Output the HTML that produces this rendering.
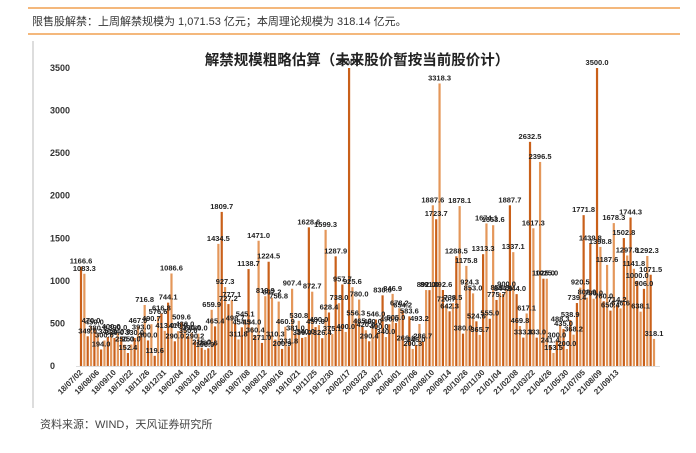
<!DOCTYPE html>
<html><head><meta charset="utf-8"><style>
body{margin:0;background:#fff;width:696px;height:453px;overflow:hidden;font-family:"Liberation Sans","Noto Sans CJK SC",sans-serif;}
</style></head><body>
<svg width="696" height="453" style="position:absolute;left:0;top:0">
<line x1="28" y1="8" x2="680" y2="8" stroke="#f0a050" stroke-width="1.5"/>
<text x="32" y="25" font-size="11" fill="#333">限售股解禁：上周解禁规模为 1,071.53 亿元；本周理论规模为 318.14 亿元。</text>
<line x1="28" y1="34" x2="680" y2="34" stroke="#f0a050" stroke-width="1.5"/>
<line x1="33" y1="41" x2="33" y2="408" stroke="#bbb" stroke-width="1"/>
<text x="357" y="65" font-size="14.5" font-weight="bold" text-anchor="middle" fill="#222">解禁规模粗略估算（未来股价暂按当前股价计）</text>
<g id="yaxis"></g><g id="bars"></g><g id="labels"></g><g id="xaxis"></g>
<text x="40" y="428" font-size="11" fill="#444">资料来源：WIND，天风证券研究所</text>
</svg>
<script>
const values=[1166.6,1083.3,349,470,450,380,194,300,340,400,330,390,340,250,152.4,253,330,467,393,716.8,300,490.7,119.6,576.6,616.8,413,744.1,1086.6,290,410,509.6,430,350,390,290.2,380,215,190,207.6,659.9,465.4,1434.5,1809.7,
927.3,727.2,777.1,498.7,311.8,454.3,545.1,1138.7,454,360.4,1471,271,819.9,1224.5,802.2,310.3,756.8,200.9,460.9,231.8,907.4,381,530.8,330,340,1628.6,872.7,457,480,326.4,1599.3,628.4,375.1,1287.9,738,957.7,400,3500,925.6,556.3,
780,465,420,290.4,460,546,400,830,340,490,846.9,505,678.2,654.2,266,583.6,200.3,246,493.2,286.7,892,891,1887.6,1723.7,3318.3,892.6,720.7,642.3,738.5,1288.5,1878.1,380,1175.8,924.3,853,524.6,365.7,1313.3,1674.1,555,1653.6,775.7,859.8,844.9,900,
1887.7,1337.1,844,469.8,333.8,617.1,2632.5,1617.3,333,2396.5,1025,1025,241.4,153.5,300,488.3,435,200,538.9,368.2,739.4,920.5,1771.8,802.9,1439.8,790,3500,1398.8,760,1187.6,650.4,1678.3,714.2,676.6,1502.8,1297.8,1744.3,1141.8,1000,638.1,906,1292.3,1071.5,318.1];
const dateLabels=["18/07/02","18/08/06","18/09/10","18/10/22","18/11/26","18/12/31","19/02/04","19/03/18","19/04/22","19/06/03","19/07/08","19/08/12","19/09/16","19/10/21","19/11/25","19/12/30","20/02/17","20/03/23","20/04/27","20/06/01","20/07/06","20/08/10","20/09/14","20/10/26","20/11/30","21/01/04","21/02/08","21/03/22","21/04/26","21/05/30","21/07/05","21/08/09","21/09/13"];
const yTicks=[0,500,1000,1500,2000,2500,3000,3500];
const NS="http://www.w3.org/2000/svg";
const x0=81,x1=654,yZero=366,yTop=68;
function xs(i){return x0+i*(x1-x0)/(values.length-1);}
function ys(v){return yZero-(v/3500)*(yZero-yTop);}
function mk(t,a,p){const e=document.createElementNS(NS,t);for(const k in a)e.setAttribute(k,a[k]);p.appendChild(e);return e;}
const ya=document.getElementById('yaxis');
yTicks.forEach(t=>{const e=mk('text',{x:50,y:ys(t)+3,'font-size':9,'font-weight':'bold',fill:'#333'},ya);e.textContent=t;

});
const bg=document.getElementById('bars'),lg=document.getElementById('labels');
values.forEach((v,i)=>{const b=mk('rect',{x:xs(i)-1.1,y:ys(v),width:2.2,height:yZero-ys(v),fill:i%2?'#e4975a':'#c9601a'},bg);


const t=mk('text',{x:xs(i),y:ys(v)-3,'font-size':7.5,'font-weight':'bold','text-anchor':'middle',fill:'#222'},lg);t.textContent=v.toFixed(1);

});
mk('line',{x1:76,y1:yZero+0.5,x2:660,y2:yZero+0.5,stroke:'#ddd'},bg);
const xa=document.getElementById('xaxis');
dateLabels.forEach((d,k)=>{const xx=xs(k*5)+2,yy=yZero+7;const t=mk('text',{x:xx,y:yy,'font-size':8,'font-weight':'bold','text-anchor':'end',fill:'#333',transform:`rotate(-45 ${xx} ${yy})`},xa);t.textContent=d;

});
</script>
</body></html>
